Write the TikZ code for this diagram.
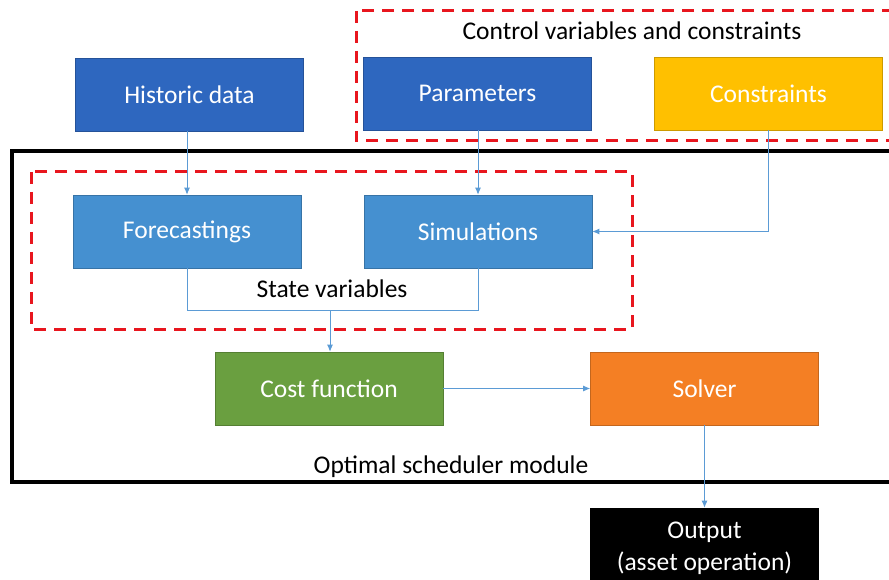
\documentclass[tikz,border=0pt]{standalone}
\usepackage{fontspec}
\setmainfont{Carlito}
\usetikzlibrary{arrows.meta}
\definecolor{darkblue}{HTML}{2E67BF}
\definecolor{midblue}{HTML}{4590D0}
\definecolor{cyellow}{HTML}{FFC000}
\definecolor{cgreen}{HTML}{6A9F40}
\definecolor{corange}{HTML}{F47F24}
\definecolor{linkblue}{HTML}{5B9BD5}
\definecolor{dashred}{HTML}{E8161E}
\begin{document}
\begin{tikzpicture}[x=1pt,y=-1pt,
  box/.style={minimum width=228pt,minimum height=73pt,inner sep=0pt,text=white,
    font=\fontsize{25.5}{32}\selectfont,align=center,draw=#1!80!black,line width=0.6pt,fill=#1},
  link/.style={draw=linkblue,line width=0.9pt,-{Latex[length=7pt,width=6pt]}},
  plain/.style={draw=linkblue,line width=0.9pt},
  reddash/.style={draw=dashred,line width=3pt,dash pattern=on 12pt off 8pt},
  lbl/.style={font=\fontsize{25.5}{32}\selectfont,text=black,inner sep=0pt}]
\useasboundingbox (0,0) rectangle (889,580);
% frames
\draw[reddash] (356,11) rectangle (895,141);
\draw[black,line width=4pt] (12,151) rectangle (895,482);
\draw[reddash] (31,172) rectangle (632,329);
\node[lbl] (ctl) at (632,31) {Control variables and constraints};
\node[lbl] (stv) at (332,289) {State variables};
\node[lbl] (osm) at (451,467) {Optimal scheduler module};
% boxes
\node[box=darkblue] (hist) at (189.5,94.5) {Historic data};
\node[box=darkblue] (par) at (477.5,93.5) {Parameters};
\node[box=cyellow] (con) at (768.5,93.5) {Constraints};
\node[box=midblue] (fore) at (187,231.5) {Forecastings};
\node[box=midblue] (sim) at (478,231.5) {Simulations};
\node[box=cgreen] (cost) at (329,388.5) {Cost function};
\node[box=corange] (sol) at (704.5,388.5) {Solver};
\node[box=black,minimum height=72pt] (out) at (704.5,544) {};
\node[lbl,text=white,align=center] (outtxt) at (704.5,548) {Output\\(asset operation)};
% connectors
\coordinate (j) at (330,310);
\draw[link] (hist.south -| fore.north) -- (fore.north);
\draw[link] (par.south -| sim.north) -- (sim.north);
\draw[link] (con.south) |- (sim.east);
\draw[plain] (fore.south) |- (j);
\draw[plain] (sim.south) |- (j);
\draw[link] (j) -- (j |- cost.north);
\draw[link] (cost.east) -- (sol.west);
\draw[link] (sol.south) -- (out.north);
\end{tikzpicture}
\end{document}
